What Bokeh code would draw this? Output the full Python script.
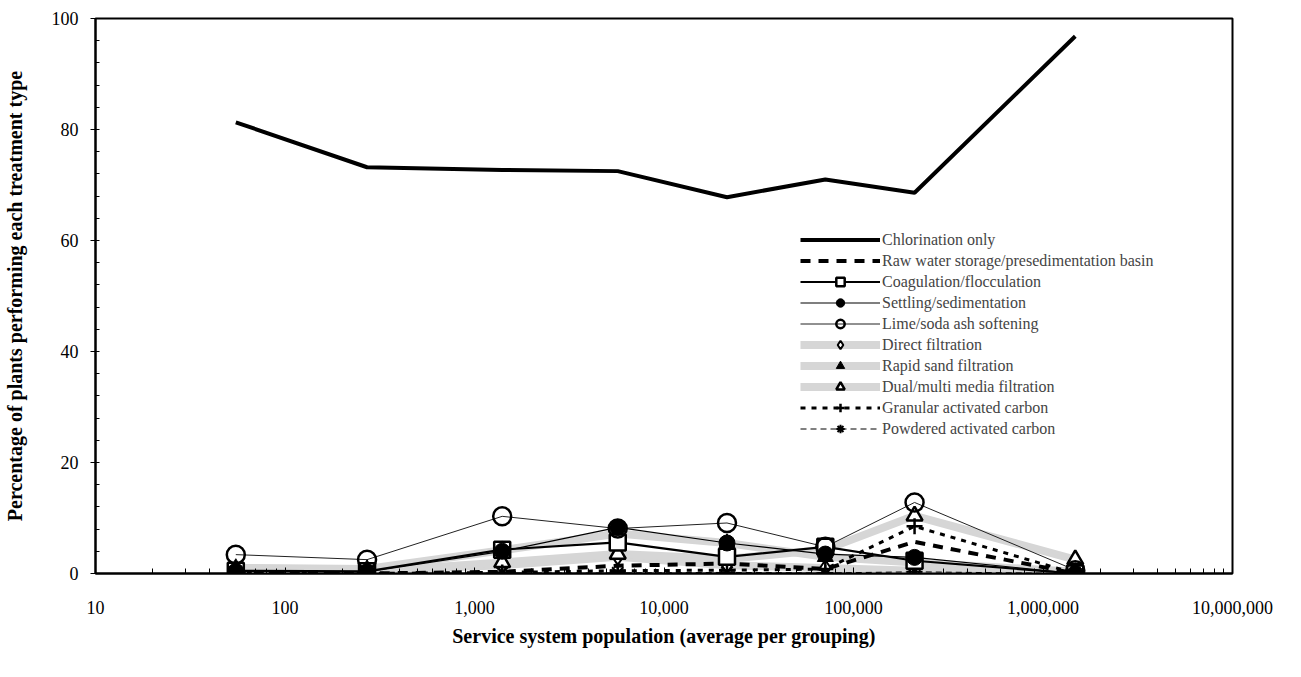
from bokeh.plotting import figure
from bokeh.models import (Legend, LegendItem, SingleIntervalTicker, LogTicker,
                          NumeralTickFormatter, Range1d)
from bokeh.embed import file_html
from bokeh.resources import INLINE

# ---- data ----
population = [55, 271, 1400, 5700, 21500, 71000, 210000, 1480000]
chlorination = [81.3, 73.2, 72.7, 72.5, 67.8, 71.0, 68.6, 96.8]
raw_water = [0.0, 0.0, 0.3, 1.4, 1.8, 0.8, 5.7, 0.0]
coagulation = [0.5, 0.4, 4.3, 5.6, 3.0, 4.8, 2.3, 0.0]
settling = [0.4, 0.3, 4.0, 8.3, 5.5, 3.5, 2.9, 0.0]
lime_soda = [3.4, 2.5, 10.3, 8.1, 9.1, 4.8, 12.8, 0.6]
direct_filt = [0.5, 0.5, 1.5, 3.0, 1.5, 1.0, 0.5, 0.0]
rapid_sand = [1.0, 0.8, 4.2, 7.2, 5.5, 3.0, 2.0, 0.3]
dual_media = [0.3, 0.3, 2.0, 3.5, 2.6, 4.3, 10.4, 2.5]
gac = [0.0, 0.0, 0.2, 0.5, 0.6, 0.8, 8.5, 0.0]
pac = [0.0, 0.0, 0.1, 0.1, 0.2, 0.1, 0.3, 0.0]

labels = ["Chlorination only", "Raw water storage/presedimentation basin",
          "Coagulation/flocculation", "Settling/sedimentation",
          "Lime/soda ash softening", "Direct filtration", "Rapid sand filtration",
          "Dual/multi media filtration", "Granular activated carbon",
          "Powdered activated carbon"]

SERIF = "Liberation Serif"

p = figure(width=1285, height=668, x_axis_type="log",
           x_range=Range1d(10, 1e7), y_range=Range1d(0, 100),
           output_backend="svg", toolbar_location=None,
           min_border_left=89, min_border_right=53, min_border_top=18,
           min_border_bottom=95)
p.xgrid.visible = False
p.ygrid.visible = False
p.outline_line_color = "black"
p.outline_line_width = 2
p.background_fill_color = "white"
p.border_fill_color = "white"

GRAY = "#d6d6d6"
items = []

# gray band series (drawn first)
r_direct_l = p.line(population, direct_filt, line_color=GRAY, line_width=8)
r_rapid_l = p.line(population, rapid_sand, line_color=GRAY, line_width=8)
r_dual_l = p.line(population, dual_media, line_color=GRAY, line_width=8)

r_pac_l = p.line(population, pac, line_color="black", line_width=1, line_dash="6 4")
r_gac_l = p.line(population, gac, line_color="black", line_width=3, line_dash="5 6")
r_raw_l = p.line(population, raw_water, line_color="black", line_width=4, line_dash="10 8")
r_lime_l = p.line(population, lime_soda, line_color="#222222", line_width=1)
r_settle_l = p.line(population, settling, line_color="black", line_width=1.2)
r_coag_l = p.line(population, coagulation, line_color="black", line_width=2.2)
r_chl_l = p.line(population, chlorination, line_color="black", line_width=4)

MS = 16
r_direct_m = p.scatter(population, direct_filt, marker="diamond", size=MS,
                       fill_color="white", line_color="black", line_width=2)
r_dual_m = p.scatter(population, dual_media, marker="triangle", size=MS,
                     fill_color="white", line_color="black", line_width=2.5)
r_rapid_m = p.scatter(population, rapid_sand, marker="triangle", size=MS,
                      fill_color="black", line_color="black", line_width=1)
r_pac_m = p.scatter(population, pac, marker="asterisk", size=MS,
                    line_color="black", line_width=2)
r_gac_m = p.scatter(population, gac, marker="cross", size=MS,
                    line_color="black", line_width=2.5)
r_coag_m = p.scatter(population, coagulation, marker="square", size=MS,
                     fill_color="white", line_color="black", line_width=2.5)
r_settle_m = p.scatter(population, settling, marker="circle", size=MS,
                       fill_color="black", line_color="black")
r_lime_m = p.scatter(population, lime_soda, marker="circle", size=MS + 2,
                     fill_color=None, line_color="black", line_width=2.5)

renderer_sets = [[r_chl_l], [r_raw_l], [r_coag_l, r_coag_m], [r_settle_l, r_settle_m],
                 [r_lime_l, r_lime_m], [r_direct_l, r_direct_m], [r_rapid_l, r_rapid_m],
                 [r_dual_l, r_dual_m], [r_gac_l, r_gac_m], [r_pac_l, r_pac_m]]
for lab, rs in zip(labels, renderer_sets):
    items.append(LegendItem(label=lab, renderers=rs))

legend = Legend(items=items, location=(705, 134), orientation="vertical",
                glyph_width=80, glyph_height=21, label_height=21, spacing=0,
                label_standoff=2, padding=0, margin=0,
                label_text_font=SERIF, label_text_font_size="16px",
                border_line_alpha=0, background_fill_color="white",
                background_fill_alpha=1)
p.add_layout(legend, "center")

# axes
p.xaxis.ticker = LogTicker(desired_num_ticks=7, num_minor_ticks=10)
p.xaxis.formatter = NumeralTickFormatter(format="0,0")
p.xaxis.axis_label = "Service system population (average per grouping)"
p.yaxis.ticker = SingleIntervalTicker(interval=20, num_minor_ticks=5)
p.yaxis.axis_label = "Percentage of plants performing each treatment type"

for ax in (p.xaxis[0], p.yaxis[0]):
    ax.axis_line_width = 2
    ax.axis_line_color = "black"
    ax.major_tick_line_color = "black"
    ax.minor_tick_line_color = "black"
    ax.major_label_text_font = SERIF
    ax.major_label_text_font_size = "18px"
    ax.major_label_text_color = "black"
    ax.axis_label_text_font = SERIF
    ax.axis_label_text_font_size = "20px"
    ax.axis_label_text_font_style = "bold"
    ax.axis_label_text_color = "black"

p.xaxis.major_tick_in = 6
p.xaxis.major_tick_out = 0
p.xaxis.minor_tick_in = 5
p.xaxis.minor_tick_out = 0
p.xaxis.major_label_standoff = 27
p.xaxis.axis_label_standoff = 8

p.yaxis.major_tick_in = 0
p.yaxis.major_tick_out = 5
p.yaxis.minor_tick_in = 4
p.yaxis.minor_tick_out = 0
p.yaxis.major_label_standoff = 12
p.yaxis.axis_label_standoff = 23

open("out.html", "w").write(file_html(p, INLINE))
